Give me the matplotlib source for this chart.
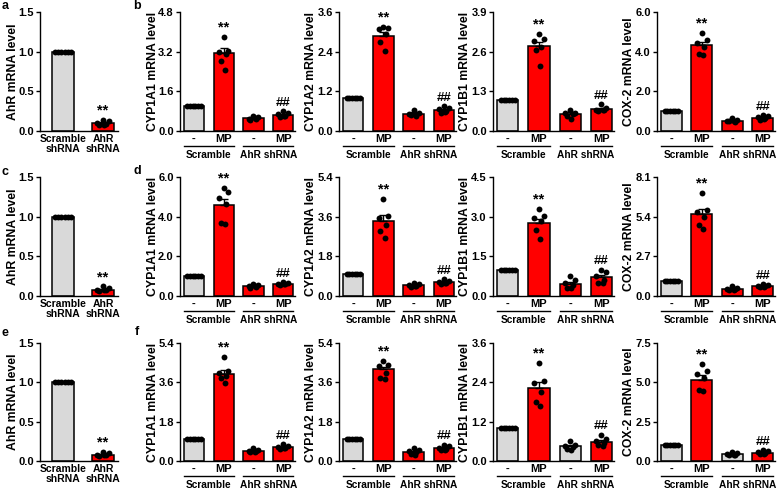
import numpy as np
import matplotlib.pyplot as plt
from matplotlib.transforms import blended_transform_factory

plt.rcParams["font.family"] = ["Liberation Sans", "DejaVu Sans"]
plt.rcParams["font.weight"] = "bold"
plt.rcParams["axes.labelweight"] = "bold"

GRAY = "#d9d9d9"
RED = "#ff0000"
W, H = 778, 490

# ── Daten: AhR-Knockdown (a, c, e) ──────────────────────────────────────────
kd_labels = ["Scramble\nshRNA", "AhR\nshRNA"]
kd_mean = [[1.0, 0.10], [1.0, 0.08], [1.0, 0.08]]
kd_sem = [[0.005, 0.012], [0.005, 0.010], [0.005, 0.010]]
kd_dots = [
    [[1, 1, 1, 1, 1, 1], [0.14, 0.12, 0.10, 0.09, 0.08, 0.08]],
    [[1, 1, 1, 1, 1, 1], [0.12, 0.10, 0.08, 0.07, 0.06, 0.07]],
    [[1, 1, 1, 1, 1, 1], [0.12, 0.10, 0.08, 0.07, 0.06, 0.07]],
]

# ── Daten: Zielgene (b, d, f) ────────────────────────────────────────────────
genes = ["CYP1A1", "CYP1A2", "CYP1B1", "COX-2"]
grp_ticks = ["-", "MP", "-", "MP"]
grp_names = ["Scramble", "AhR shRNA"]

b_top = [4.8, 3.6, 3.9, 6.0]
b_mean = [[1.0, 3.15, 0.52, 0.66], [1.0, 2.88, 0.52, 0.64],
          [1.0, 2.77, 0.57, 0.72], [1.0, 4.33, 0.52, 0.68]]
b_sem = [[0.01, 0.18, 0.03, 0.04], [0.01, 0.12, 0.04, 0.04],
         [0.01, 0.15, 0.05, 0.04], [0.01, 0.17, 0.04, 0.04]]
b_dots = [
    [[1] * 6, [3.78, 3.24, 3.20, 3.10, 2.84, 2.47], [0.62, 0.55, 0.50, 0.48, 0.45, 0.52], [0.80, 0.72, 0.68, 0.62, 0.55, 0.60]],
    [[1] * 6, [3.16, 3.12, 3.08, 2.94, 2.70, 2.43], [0.65, 0.55, 0.50, 0.45, 0.48, 0.52], [0.75, 0.70, 0.66, 0.60, 0.55, 0.58]],
    [[1] * 6, [3.19, 3.00, 2.95, 2.75, 2.64, 2.14], [0.70, 0.60, 0.58, 0.55, 0.50, 0.38], [0.88, 0.75, 0.70, 0.68, 0.65, 0.70]],
    [[1] * 6, [4.96, 4.57, 4.45, 4.25, 3.90, 3.82], [0.65, 0.55, 0.50, 0.45, 0.48, 0.50], [0.80, 0.75, 0.70, 0.65, 0.55, 0.62]],
]

d_top = [6.0, 5.4, 4.5, 8.1]
d_mean = [[1.0, 4.57, 0.50, 0.62], [1.0, 3.42, 0.49, 0.64],
          [1.0, 2.76, 0.47, 0.71], [1.0, 5.57, 0.50, 0.69]]
d_sem = [[0.01, 0.30, 0.03, 0.03], [0.01, 0.25, 0.03, 0.03],
         [0.01, 0.17, 0.07, 0.08], [0.01, 0.35, 0.04, 0.04]]
d_dots = [
    [[1] * 6, [5.45, 5.23, 4.92, 4.63, 3.69, 3.64], [0.62, 0.55, 0.50, 0.45, 0.42, 0.48], [0.70, 0.68, 0.62, 0.60, 0.55, 0.58]],
    [[1] * 6, [4.40, 3.63, 3.55, 3.24, 2.93, 2.62], [0.60, 0.55, 0.50, 0.45, 0.40, 0.45], [0.75, 0.70, 0.65, 0.60, 0.55, 0.60]],
    [[1] * 6, [3.28, 3.02, 2.96, 2.83, 2.51, 2.15], [0.75, 0.60, 0.50, 0.40, 0.30, 0.30], [0.99, 0.92, 0.77, 0.60, 0.51, 0.50]],
    [[1] * 6, [7.00, 5.85, 5.73, 5.39, 4.82, 4.59], [0.65, 0.55, 0.50, 0.45, 0.40, 0.42], [0.80, 0.78, 0.70, 0.65, 0.60, 0.60]],
]

f_top = [5.4, 5.4, 3.6, 7.5]
f_mean = [[1.0, 4.00, 0.47, 0.62], [1.0, 4.19, 0.42, 0.58],
          [1.0, 2.22, 0.45, 0.59], [1.0, 5.18, 0.43, 0.51]]
f_sem = [[0.01, 0.18, 0.03, 0.04], [0.01, 0.13, 0.05, 0.04],
         [0.01, 0.19, 0.04, 0.05], [0.01, 0.29, 0.03, 0.04]]
f_dots = [
    [[1] * 6, [4.78, 4.11, 4.04, 3.88, 3.80, 3.57], [0.58, 0.52, 0.48, 0.45, 0.40, 0.42], [0.78, 0.70, 0.65, 0.60, 0.55, 0.58]],
    [[1] * 6, [4.58, 4.38, 4.35, 4.04, 3.80, 3.76], [0.60, 0.50, 0.45, 0.40, 0.30, 0.28], [0.75, 0.70, 0.60, 0.55, 0.50, 0.50]],
    [[1] * 6, [3.00, 2.43, 2.38, 2.12, 1.81, 1.68], [0.62, 0.50, 0.45, 0.42, 0.38, 0.35], [0.80, 0.68, 0.60, 0.55, 0.50, 0.45]],
    [[1] * 6, [6.19, 5.72, 5.50, 5.29, 4.50, 4.43], [0.55, 0.48, 0.45, 0.40, 0.35, 0.38], [0.70, 0.62, 0.55, 0.50, 0.42, 0.45]],
]
# Farbe des 3. Balkens (AhR shRNA, -) je Panel
b_sh_col = [RED, RED, RED, RED]
d_sh_col = [RED, RED, RED, RED]
f_sh_col = [RED, RED, GRAY, GRAY]

# ── Layout (Pixel) ───────────────────────────────────────────────────────────
row_top = [12, 177, 343]
row_bot = [131, 296, 461]
gene_left = [180, 339, 493, 657]
gene_width = [115, 117, 121, 118]
kd_left, kd_width = 40, 78

CTRL_OFF = np.linspace(-0.22, 0.22, 6)
DOT_OFF = np.array([0.0, 0.16, -0.16, 0.08, -0.1, 0.04])


def px_axes(fig, left, top, width, bottom):
    return fig.add_axes([left / W, 1 - bottom / H, width / W, (bottom - top) / H])


def style(ax, top, width_px, label_dx):
    for s in ["top", "right"]:
        ax.spines[s].set_visible(False)
    for s in ["left", "bottom"]:
        ax.spines[s].set_linewidth(1.0)
    ax.set_ylim(0, top)
    ticks = [0, top / 3, 2 * top / 3, top]
    ax.set_yticks(ticks)
    ax.set_yticklabels([f"{t:.1f}" for t in ticks], fontsize=8)
    ax.tick_params(axis="y", length=3, width=1, pad=1.5)
    ax.tick_params(axis="x", length=0, pad=2)
    ax.yaxis.set_label_coords(-label_dx / width_px, 0.5)


def draw_bars(ax, xs, means, sems, dots, colors, bw, spread):
    ax.bar(xs, means, width=bw, color=colors, edgecolor="black", linewidth=1.1, zorder=2)
    for i, x in enumerate(xs):
        off = CTRL_OFF if i == 0 else DOT_OFF
        ax.scatter(x + off * spread, dots[i], s=18, color="black", zorder=4, linewidths=0)
        if i > 0:
            ax.errorbar(x, means[i], yerr=[[0], [sems[i]]], fmt="none", ecolor="black",
                        elinewidth=1.0, capsize=3, capthick=1.0, zorder=3)


fig = plt.figure(figsize=(W / 100, H / 100), dpi=100)

# AhR-Knockdown-Panels
for r in range(3):
    ax = px_axes(fig, kd_left, row_top[r], kd_width, row_bot[r])
    style(ax, 1.5, kd_width, 26.5)
    xs = np.arange(2)
    draw_bars(ax, xs, kd_mean[r], kd_sem[r], kd_dots[r], [GRAY, RED], 0.53, 0.9)
    ax.set_xlim(-0.575, 1.375)
    ax.set_xticks(xs)
    ax.set_xticklabels(kd_labels, linespacing=1.0, fontsize=7.5)
    ax.set_ylabel("AhR mRNA level", fontsize=8.8, va="center")
    ax.text(1, kd_mean[r][1] + 0.07, "**", ha="center", va="bottom", fontsize=10.5)

rows = [(b_top, b_mean, b_sem, b_dots, b_sh_col),
        (d_top, d_mean, d_sem, d_dots, d_sh_col),
        (f_top, f_mean, f_sem, f_dots, f_sh_col)]

for r, (tops, means, sems, dots, shc) in enumerate(rows):
    for g in range(4):
        ax = px_axes(fig, gene_left[g], row_top[r], gene_width[g], row_bot[r])
        style(ax, tops[g], gene_width[g], 27.5)
        xs = np.arange(4)
        cols = [GRAY, RED, shc[g], RED]
        draw_bars(ax, xs, means[g], sems[g], dots[g], cols, 0.68, 1.0)
        ax.set_xlim(-0.47, 3.4)
        ax.set_xticks(xs)
        ax.set_xticklabels(grp_ticks, fontsize=8)
        ax.set_ylabel(f"{genes[g]} mRNA level", fontsize=8.8, va="center")
        top_mp = max(max(dots[g][1]), means[g][1] + sems[g][1])
        ax.text(1, top_mp + tops[g] * 0.02, "**", ha="center", va="bottom", fontsize=10.5)
        top_sh = max(max(dots[g][3]), means[g][3] + sems[g][3])
        ax.text(3, top_sh + tops[g] * 0.02, "##", ha="center", va="bottom", fontsize=9.5)
        tr = blended_transform_factory(ax.transData, ax.transAxes)
        h = row_bot[r] - row_top[r]
        for k, name in enumerate(grp_names):
            x0 = 2 * k
            ax.plot([x0 - 0.34, x0 + 1.34], [-15 / h, -15 / h], color="black", lw=1.0,
                    transform=tr, clip_on=False)
            ax.text(x0 + 0.5, -24 / h, name, ha="center", va="center", fontsize=7.3,
                    transform=tr)

# Panelbuchstaben
letters = [("a", 5, 6), ("b", 137, 6), ("c", 5, 172), ("d", 137, 171), ("e", 5, 333), ("f", 137, 332)]
for t, x, y in letters:
    fig.text(x / W, 1 - y / H, t, ha="center", va="center", fontsize=9, fontweight="bold")

plt.savefig("out.png", dpi=100)
